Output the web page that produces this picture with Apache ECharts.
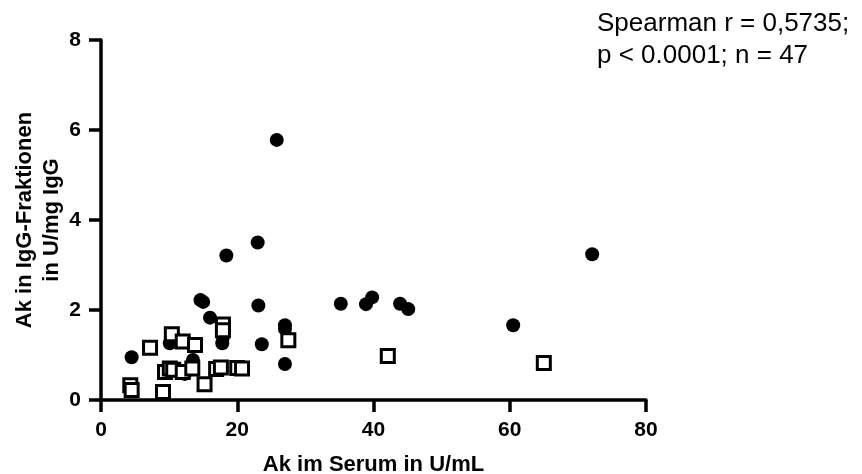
<!DOCTYPE html>
<html>
<head>
<meta charset="utf-8">
<script src="https://cdn.jsdelivr.net/npm/echarts@6/dist/echarts.min.js"></script>
<style>
  html, body { margin: 0; padding: 0; background: #fff; }
  #chart { width: 862px; height: 474px; }
</style>
</head>
<body>
<div id="chart"></div>
<script>
// Gruppe 1 (gefüllte Kreise)
const circleX = [4.5, 10.1, 11.0, 12.3, 13.5, 14.6, 15.0, 16.0, 17.8, 17.9, 18.4, 23.0, 23.1, 23.6, 25.8,
  27.0, 27.0, 27.0, 35.2, 38.9, 39.8, 43.9, 45.1, 60.5, 72.1]
const circleY = [0.95, 1.26, 1.35, 0.58, 0.89, 2.22, 2.18, 1.83, 1.26, 1.4, 3.21, 3.5, 2.1, 1.24, 5.78,
  1.66, 1.58, 0.8, 2.14, 2.13, 2.28, 2.14, 2.02, 1.66, 3.24]

// Gruppe 2 (offene Quadrate)
const squareX = [4.3, 4.5, 7.2, 9.1, 9.4, 10.1, 10.4, 10.6, 12.0, 12.0, 13.4, 13.8, 15.2, 16.9, 17.6,
  17.9, 17.9, 20.0, 20.7, 27.5, 42.1, 65.0]
const squareY = [0.33, 0.22, 1.16, 0.18, 0.62, 0.7, 1.46, 0.67, 1.3, 0.62, 0.7, 1.22, 0.35, 0.69, 0.72,
  1.68, 1.55, 0.71, 0.7, 1.33, 0.98, 0.82]

const xTicks = [0, 20, 40, 60, 80]
const yTicks = [0, 2, 4, 6, 8]

const statLines = ['Spearman r = 0,5735;', 'p < 0.0001; n = 47']

const font = '"Liberation Sans", Arial, Helvetica, sans-serif'

const toPairs = (xs, ys) => xs.map((x, i) => [x, ys[i]])

const axisCommon = {
  axisLine: { show: true, onZero: false, lineStyle: { color: '#000', width: 3.5 } },
  axisTick: { show: true, length: 12, lineStyle: { color: '#000', width: 3.5 } },
  axisLabel: { color: '#000', fontSize: 21, fontWeight: 'bold', fontFamily: font, margin: 20 },
  splitLine: { show: false },
  nameLocation: 'middle',
  nameMoveOverlap: false,
  nameTextStyle: { color: '#000', fontSize: 22, fontWeight: 'bold', fontFamily: font, lineHeight: 27 },
}

const chart = echarts.init(document.getElementById('chart'))

chart.setOption({
  animation: false,
  grid: { left: 101, right: 216, top: 40, bottom: 74, outerBoundsMode: 'none' },
  xAxis: {
    ...axisCommon,
    type: 'value',
    min: xTicks[0],
    max: xTicks[xTicks.length - 1],
    interval: xTicks[1] - xTicks[0],
    name: 'Ak im Serum in U/mL',
    nameGap: 51,
  },
  yAxis: {
    ...axisCommon,
    type: 'value',
    min: yTicks[0],
    max: yTicks[yTicks.length - 1],
    interval: yTicks[1] - yTicks[0],
    name: 'Ak in IgG-Fraktionen\nin U/mg IgG',
    nameGap: 36,
  },
  graphic: [
    {
      type: 'text',
      left: 597,
      top: 8,
      style: {
        text: statLines.join('\n'),
        fill: '#000',
        font: '26px ' + font,
        lineHeight: 32,
      },
    },
  ],
  series: [
    {
      type: 'scatter',
      symbol: 'circle',
      symbolSize: 14,
      itemStyle: { color: '#000', opacity: 1 },
      data: toPairs(circleX, circleY),
    },
    {
      type: 'scatter',
      symbol: 'rect',
      symbolSize: 13,
      itemStyle: { color: '#fff', borderColor: '#000', borderWidth: 3, opacity: 1 },
      data: toPairs(squareX, squareY),
    },
  ],
})
</script>
</body>
</html>
